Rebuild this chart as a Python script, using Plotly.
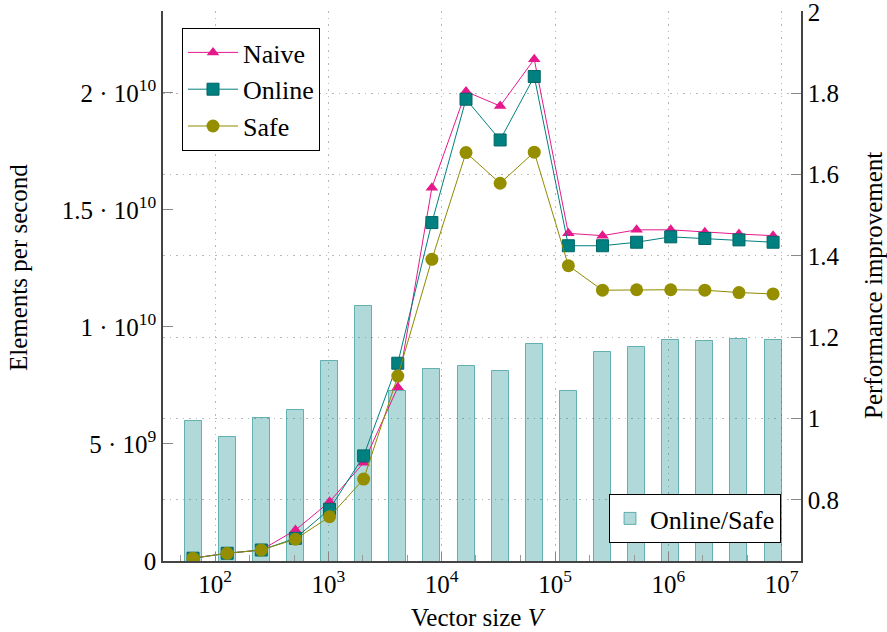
import numpy as np
import plotly.graph_objects as go

# ---- data ----
vector_size = [64, 128, 256, 512, 1024, 2048, 4096, 8192, 16384, 32768, 65536,
               131072, 262144, 524288, 1048576, 2097152, 4194304, 8388608]
naive = [0.12e9, 0.33e9, 0.47e9, 1.32e9, 2.53e9, 4.2e9, 7.42e9, 15.95e9, 20.06e9, 19.44e9,
         21.44e9, 14.0e9, 13.9e9, 14.15e9, 14.15e9, 14.05e9, 13.97e9, 13.9e9]
online = [0.12e9, 0.33e9, 0.47e9, 0.97e9, 2.21e9, 4.49e9, 8.45e9, 14.46e9, 19.73e9, 17.99e9,
          20.7e9, 13.47e9, 13.47e9, 13.62e9, 13.85e9, 13.78e9, 13.72e9, 13.62e9]
safe = [0.12e9, 0.33e9, 0.47e9, 0.93e9, 1.89e9, 3.5e9, 7.9e9, 12.89e9, 17.45e9, 16.14e9,
        17.47e9, 12.62e9, 11.57e9, 11.59e9, 11.59e9, 11.57e9, 11.47e9, 11.41e9]
online_over_safe = [0.995, 0.956, 1.002, 1.02, 1.142, 1.277, 1.069, 1.122, 1.129, 1.116,
                    1.184, 1.068, 1.165, 1.175, 1.194, 1.191, 1.195, 1.194]

left_tickvals = [0, 5e9, 1e10, 1.5e10, 2e10]
left_ticktext = ["0", "5 · 10<sup>9</sup>", "1 · 10<sup>10</sup>",
                 "1.5 · 10<sup>10</sup>", "2 · 10<sup>10</sup>"]
right_tickvals = [0.8, 1.0, 1.2, 1.4, 1.6, 1.8, 2.0]
right_ticktext = ["0.8", "1", "1.2", "1.4", "1.6", "1.8", "2"]
x_tickvals = [1e2, 1e3, 1e4, 1e5, 1e6, 1e7]
x_ticktext = ["10<sup>2</sup>", "10<sup>3</sup>", "10<sup>4</sup>",
              "10<sup>5</sup>", "10<sup>6</sup>", "10<sup>7</sup>"]

FONT = "Liberation Serif"
FS = 25
XR = [1.541, 7.170]

L, R, T, B = 163, 86, 11, 71
W = 887 - L - R
H = 632 - T - B

fig = go.Figure()

fig.add_trace(go.Bar(
    x=np.log10(vector_size), y=online_over_safe, width=0.15,
    marker=dict(color="rgba(0,128,128,0.3)", line=dict(color="rgba(0,128,128,0.55)", width=1)),
    name="Online/Safe", legend="legend2", xaxis="x", yaxis="y", showlegend=True,
))

fig.add_trace(go.Scatter(
    x=vector_size, y=naive, name="Naive", mode="lines+markers", xaxis="x2", yaxis="y2",
    line=dict(color="#e6198c", width=1),
    marker=dict(symbol="triangle-up", size=11, color="#e6198c"),
))
fig.add_trace(go.Scatter(
    x=vector_size, y=online, name="Online", mode="lines+markers", xaxis="x2", yaxis="y2",
    line=dict(color="#008080", width=1),
    marker=dict(symbol="square", size=12, color="#008080", line=dict(color="#006666", width=1)),
))
fig.add_trace(go.Scatter(
    x=vector_size, y=safe, name="Safe", mode="lines+markers", xaxis="x2", yaxis="y2",
    line=dict(color="#8f8a00", width=1),
    marker=dict(symbol="circle", size=13, color="#958f00"),
))

axcol = "#444444"
gridc = "#b8b8b8"
gdash = "1.5px,5px"
fig.update_layout(
    width=887, height=632,
    margin=dict(l=L, r=R, t=T, b=B, autoexpand=False),
    paper_bgcolor="white", plot_bgcolor="white",
    font=dict(family=FONT, size=FS, color="black"),
    bargap=0,
    xaxis=dict(range=XR, visible=False, showgrid=False, zeroline=False, automargin=False),
    yaxis=dict(
        side="right", range=[0.65, 2.002], tickvals=right_tickvals, ticktext=right_ticktext,
        showgrid=True, gridcolor=gridc, griddash=gdash, gridwidth=1,
        ticks="inside", ticklen=10, tickcolor="#888888", ticklabeloverflow="allow",
        showline=True, linecolor=axcol, linewidth=1.5, zeroline=False, automargin=False,
        tickfont=dict(family=FONT, size=FS),
    ),
    xaxis2=dict(
        type="log", overlaying="x", range=XR, anchor="y2", side="bottom",
        tickvals=x_tickvals, ticktext=x_ticktext,
        showgrid=True, gridcolor=gridc, griddash=gdash, gridwidth=1,
        ticks="inside", ticklen=9, tickcolor="#888888",
        minor=dict(ticks="inside", ticklen=6, tickcolor="#999999", showgrid=False),
        showline=True, linecolor=axcol, linewidth=1.5, zeroline=False, automargin=False,
        tickfont=dict(family=FONT, size=FS),
    ),
    yaxis2=dict(
        overlaying="y", side="left", range=[0, 2.35e10], anchor="x2",
        tickvals=left_tickvals, ticktext=left_ticktext,
        showgrid=False, ticks="inside", ticklen=10, tickcolor="#888888",
        showline=True, linecolor=axcol, linewidth=1.5, zeroline=False, automargin=False,
        tickfont=dict(family=FONT, size=FS),
    ),
    legend=dict(
        x=(182 - L) / W, y=(561 - 28) / H, xanchor="left", yanchor="top",
        bordercolor="black", borderwidth=1, bgcolor="white", itemwidth=50,
        font=dict(family=FONT, size=26), traceorder="normal",
    ),
    legend2=dict(
        x=(781 - L) / W, y=(561 - 543) / H, xanchor="right", yanchor="bottom",
        bordercolor="black", borderwidth=1, bgcolor="white",
        font=dict(family=FONT, size=26),
    ),
    showlegend=True,
    annotations=[
        dict(text="Elements per second", x=(18 - L) / W, y=(561 - 268) / H,
             xref="paper", yref="paper", xanchor="center", yanchor="middle",
             showarrow=False, textangle=-90, font=dict(family=FONT, size=FS)),
        dict(text="Performance improvement", x=(873 - L) / W, y=(561 - 286) / H,
             xref="paper", yref="paper", xanchor="center", yanchor="middle",
             showarrow=False, textangle=-90, font=dict(family=FONT, size=FS)),
        dict(text="Vector size <i>V</i>", x=(478 - L) / W, y=-(618 - 561) / H,
             xref="paper", yref="paper", xanchor="center", yanchor="middle",
             showarrow=False, font=dict(family=FONT, size=FS)),
    ],
)

fig.write_html("out.html", config={"displayModeBar": False},
               post_script="document.body.style.margin='0';document.body.style.overflow='hidden';")
